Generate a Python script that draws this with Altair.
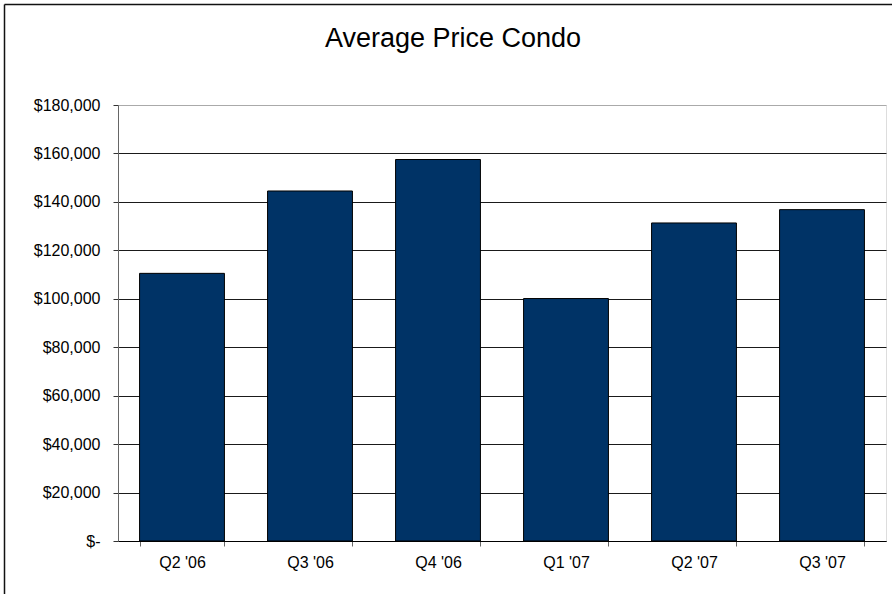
import altair as alt
import pandas as pd

quarters = ["Q2 '06", "Q3 '06", "Q4 '06", "Q1 '07", "Q2 '07", "Q3 '07"]
prices = [110500, 144500, 157500, 100100, 131300, 136800]
y_tick_values = [0, 20000, 40000, 60000, 80000, 100000, 120000, 140000, 160000, 180000]

df = pd.DataFrame({"quarter": quarters, "price": prices})

FONT = "Liberation Sans"

bars = alt.Chart(df).mark_bar(color="#003366", stroke="#000000", strokeWidth=1).encode(
    x=alt.X(
        "quarter:N",
        sort=quarters,
        title=None,
        scale=alt.Scale(paddingInner=0.337, paddingOuter=0.1685),
        axis=alt.Axis(
            labelAngle=0,
            tickBand="extent",
            domainColor="#000000",
            tickColor="#666666",
            tickSize=5,
            labelPadding=8,
            labelFontSize=16,
            labelFont=FONT,
            labelColor="#000000",
            grid=False,
        ),
    ),
    y=alt.Y(
        "price:Q",
        title=None,
        scale=alt.Scale(domain=[0, 180000], nice=False),
        axis=alt.Axis(
            values=y_tick_values,
            labelExpr="datum.value == 0 ? '$-\u00a0\u00a0\u00a0\u00a0' : format(datum.value, '$,.0f')",
            tickSize=5,
            tickColor="#333333",
            labelPadding=13,
            labelFontSize=16,
            labelFont=FONT,
            labelColor="#000000",
            domainColor="#666666",
            grid=True,
            gridColor={"condition": {"test": "datum.value >= 180000", "value": "#aaaaaa"}, "value": "#1a1a1a"},
            gridWidth=1,
        ),
    ),
)

frame_data = alt.Data(values=[{"k": 1}])
frame_left = alt.Chart(frame_data).mark_rule(color="#111111", strokeWidth=1.5).encode(
    x=alt.value(-113.5), y=alt.value(-100.5), y2=alt.value(600)
)
frame_top = alt.Chart(frame_data).mark_rule(color="#111111", strokeWidth=1.5).encode(
    x=alt.value(-113.5), x2=alt.value(800), y=alt.value(-100.5)
)

chart = alt.layer(bars, frame_left, frame_top).properties(
    width=768,
    height=436,
    padding={"left": 118, "top": 105, "right": 6, "bottom": 53},
    autosize=alt.AutoSizeParams(type="none"),
    title=alt.TitleParams(
        "Average Price Condo",
        font=FONT,
        fontSize=27,
        fontWeight="normal",
        color="#000000",
        anchor="middle",
        baseline="alphabetic",
        dx=-49,
        offset=-70,
    ),
).configure_view(stroke="#999999").configure(background="#ffffff")

chart.save("out.html", embed_options={"renderer": "svg", "actions": False})
